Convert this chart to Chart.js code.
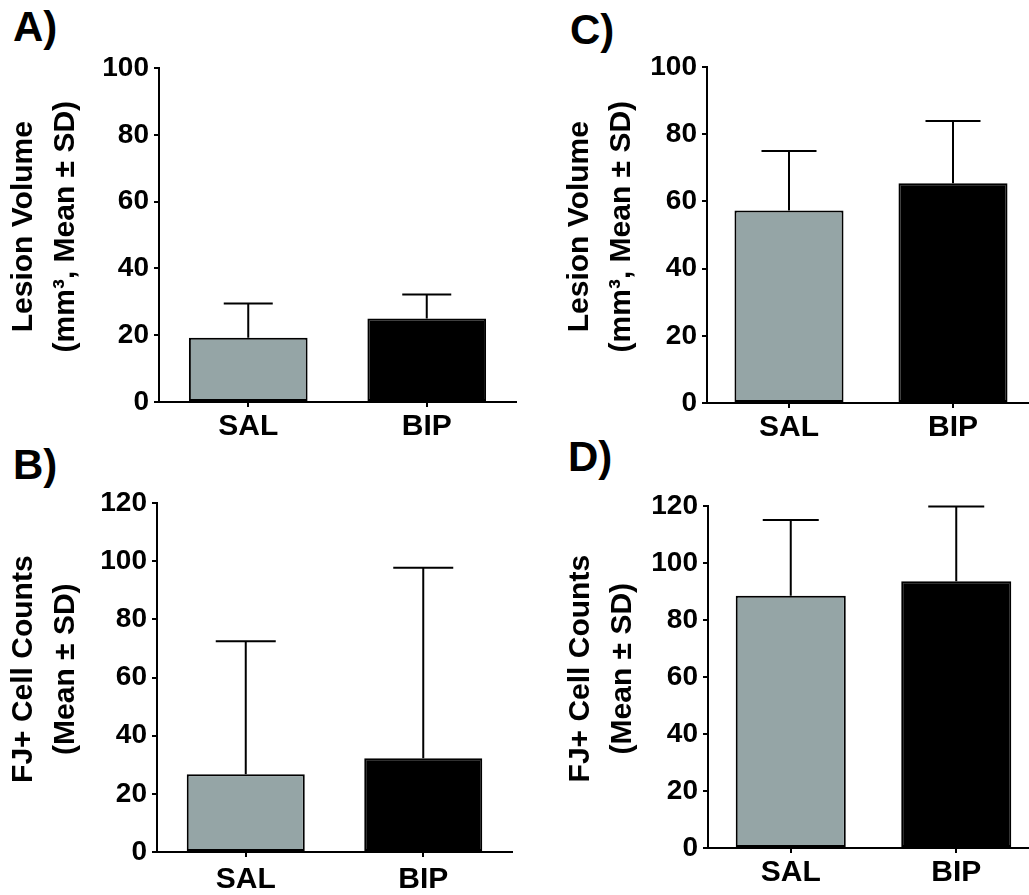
<!DOCTYPE html>
<html lang="en">
<head>
  <meta charset="UTF-8" />
  <title>Lesion Volume and FJ+ Cell Counts</title>
  <script src="https://cdn.jsdelivr.net/npm/chart.js"></script>
  <style>
    body { margin: 0; width: 1029px; height: 895px; overflow: hidden; background: #fff; position: relative; font-family: Arial, 'Liberation Sans', sans-serif; }
    canvas { position: absolute; }
    .tag { position: absolute; font-size: 42px; font-weight: bold; line-height: 1; color: #000; }
  </style>
</head>
<body>

  <div class="tag" style="left: 13px; top: 6px;">A)</div>
  <div class="tag" style="left: 13px; top: 444px;">B)</div>
  <div class="tag" style="left: 570px; top: 9px;">C)</div>
  <div class="tag" style="left: 568px; top: 436px;">D)</div>

  <canvas id="chartA" width="520" height="450" style="left: 0; top: 0;"></canvas>
  <canvas id="chartB" width="520" height="455" style="left: 0; top: 440px;"></canvas>
  <canvas id="chartC" width="524" height="450" style="left: 520px; top: 0;"></canvas>
  <canvas id="chartD" width="524" height="455" style="left: 520px; top: 440px;"></canvas>

  <script>
    const groups = ['SAL', 'BIP'];

    // means and SDs
    const lesionMeanA = [19.2, 25.0];
    const lesionSdA = [10.3, 7.2];
    const cellMeanB = [26.7, 32.2];
    const cellSdB = [45.8, 65.5];
    const lesionMeanC = [57.3, 65.4];
    const lesionSdC = [17.7, 18.5];
    const cellMeanD = [88.5, 93.6];
    const cellSdD = [26.6, 26.2];

    const lesionTicks = [0, 20, 40, 60, 80, 100];
    const cellTicks = [0, 20, 40, 60, 80, 100, 120];

    // leading spaces nudge the rotated titles up a little, like the original
    const lesionTitle = ['  Lesion Volume', '  (mm³, Mean ± SD)'];
    const cellTitle = ['  FJ+ Cell Counts', '  (Mean ± SD)'];

    Chart.defaults.font.family = "Arial, 'Liberation Sans', sans-serif";
    Chart.defaults.color = '#000';

    // one-sided (upper) SD bars
    const errorBars = {
      id: 'errorBars',
      afterDatasetsDraw(chart, args, opts) {
        const ctx = chart.ctx;
        const y = chart.scales.y;
        const ds = chart.data.datasets[0];
        ctx.save();
        ctx.strokeStyle = '#000';
        ctx.lineWidth = 2;
        chart.getDatasetMeta(0).data.forEach((bar, i) => {
          const top = y.getPixelForValue(ds.data[i] + ds.sd[i]);
          ctx.beginPath();
          ctx.moveTo(bar.x, bar.y);
          ctx.lineTo(bar.x, top);
          ctx.moveTo(bar.x - opts.cap / 2, top);
          ctx.lineTo(bar.x + opts.cap / 2, top);
          ctx.stroke();
        });
        ctx.restore();
      }
    };

    function makeChart(id, means, sds, ticks, title, g) {
      const axisGrid = { drawOnChartArea: false, tickLength: 5, color: '#000', lineWidth: 2 };
      return new Chart(document.getElementById(id), {
        type: 'bar',
        data: {
          labels: groups,
          datasets: [{
            data: means,
            sd: sds,
            backgroundColor: ['#95a5a6', '#000000'],
            borderColor: '#000',
            borderWidth: 2,
            borderSkipped: false,
            barPercentage: 0.665,
            categoryPercentage: 1
          }]
        },
        options: {
          responsive: false,
          animation: false,
          layout: { padding: { top: g.top, right: g.right, left: 0, bottom: 0 } },
          plugins: {
            legend: { display: false },
            tooltip: { enabled: false },
            errorBars: { cap: g.cap }
          },
          scales: {
            x: {
              grid: Object.assign({ offset: false }, axisGrid),
              border: { color: '#000', width: 2 },
              ticks: { padding: g.lpad, font: { size: 30, weight: 'bold' } },
              afterFit: s => { s.height = g.xh; }
            },
            y: {
              min: ticks[0],
              max: ticks[ticks.length - 1],
              afterBuildTicks: s => { s.ticks = ticks.map(v => ({ value: v })); },
              grid: axisGrid,
              border: { color: '#000', width: 2 },
              ticks: { padding: 5, font: { size: 28, weight: 'bold' } },
              title: {
                display: true,
                text: title,
                font: { size: 30, weight: 'bold', lineHeight: 1.4 },
                padding: { top: g.tpad, bottom: 0 }
              },
              afterFit: s => { s.width = g.yw; }
            }
          }
        },
        plugins: [errorBars]
      });
    }

    makeChart('chartA', lesionMeanA, lesionSdA, lesionTicks, lesionTitle,
      { top: 68, right: 4, xh: 48, yw: 159, tpad: 3, lpad: 2, cap: 49 });
    makeChart('chartB', cellMeanB, cellSdB, cellTicks, cellTitle,
      { top: 63, right: 8, xh: 43, yw: 157, tpad: 3, lpad: 5, cap: 60 });
    makeChart('chartC', lesionMeanC, lesionSdC, lesionTicks, lesionTitle,
      { top: 67, right: 9, xh: 47, yw: 187, tpad: 39, lpad: 2, cap: 55 });
    makeChart('chartD', cellMeanD, cellSdD, cellTicks, cellTitle,
      { top: 66, right: 5, xh: 47, yw: 188, tpad: 40, lpad: 2, cap: 56 });
  </script>
</body>
</html>
